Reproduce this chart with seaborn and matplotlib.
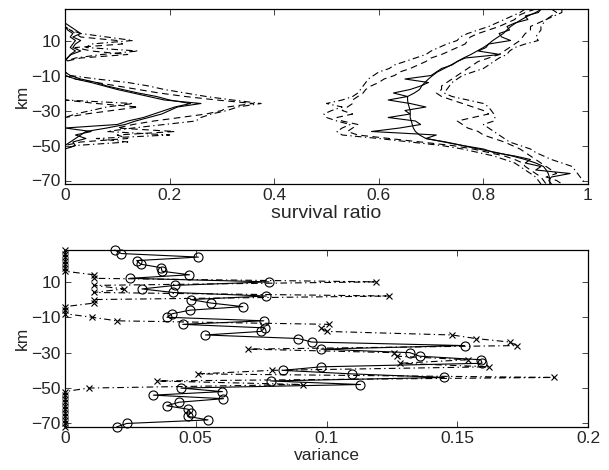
import numpy as np
import pandas as pd
import matplotlib
matplotlib.use("Agg")
import matplotlib.pyplot as plt
import seaborn as sns

# depth grid (km)
depth = [28, 26, 24, 22, 20, 18, 16, 14, 12, 10, 8, 6, 4, 2, 0,
         -2, -4, -6, -8, -10, -12, -14, -16, -18, -20, -22, -24, -26, -28, -30,
         -32, -34, -36, -38, -40, -42, -44, -46, -48, -50, -52, -54, -56, -58, -60,
         -62, -64, -66, -68, -70, -72]

# ---- top panel: survival ratio ----
# left group
left_smooth = [0, 0, 0, 0, 0, 0, 0.005, 0.015, 0.01, 0.02, 0.015, 0.01, 0.02, 0.01, 0.005,
               0, 0, 0, 0, 0, 0.02, 0.05, 0.075, 0.10, 0.13, 0.16, 0.19, 0.26, 0.215, 0.20,
               0.185, 0.16, 0.135, 0.115, 0.08, 0.04, 0.03, 0.02, 0.01, 0, 0, 0, 0, 0, 0,
               0, 0, 0, 0, 0, 0]
left_jagged = [0, 0, 0, 0, 0, 0.01, 0.02, 0.03, 0.015, 0.03, 0.02, 0.015, 0.03, 0.012, 0.004,
               0, 0, 0, 0, 0.01, 0.03, 0.06, 0.08, 0.11, 0.14, 0.175, 0.20, 0.24, 0.21, 0.19,
               0.17, 0.15, 0.12, 0.10, 0.0, 0.05, 0.02, 0.04, 0.015, 0.02, 0, 0, 0, 0, 0,
               0, 0, 0, 0, 0, 0]
left_dash = [0, 0, 0, 0, 0, 0, 0.01, 0.02, 0.03, 0.10, 0.11, 0.02, 0.05, 0.12, 0.03,
             0, 0, 0, 0, 0.0, 0.02, 0.06, 0.10, 0.14, 0.18, 0.23, 0.29, 0.36, 0.31, 0.30,
             0.27, 0.22, 0.17, 0.13, 0.10, 0.21, 0.10, 0.12, 0.03, 0, 0, 0, 0, 0, 0,
             0, 0, 0, 0, 0, 0]
left_dashdot = [0, 0, 0, 0, 0, 0, 0.01, 0.03, 0.08, 0.13, 0.05, 0.04, 0.14, 0.07, 0.02,
                0, 0, 0, 0, 0.01, 0.06, 0.12, 0.16, 0.19, 0.23, 0.27, 0.32, 0.375, 0.33, 0.31,
                0.28, 0.26, 0.25, 0.19, 0.13, 0.08, 0.20, 0.06, 0.12, 0.02, 0, 0, 0, 0, 0,
                0, 0, 0, 0, 0, 0]
left_dash_low = [0, 0, 0, 0, 0, 0, 0, 0, 0, 0, 0, 0, 0, 0, 0,
                 0, 0, 0, 0, 0, 0, 0, 0, 0, 0, 0, 0, 0.06, 0.14, 0.09,
                 0.04, 0, 0, 0, 0, 0, 0, 0, 0, 0, 0, 0, 0, 0, 0,
                 0, 0, 0, 0, 0, 0]
left_dashdot_low = [0, 0, 0, 0, 0, 0, 0, 0, 0, 0, 0, 0, 0, 0, 0,
                    0, 0, 0, 0, 0, 0, 0, 0, 0, 0, 0, 0, 0.13, 0.08, 0.05,
                    0.02, 0, 0, 0, 0, 0, 0, 0, 0, 0, 0, 0, 0, 0, 0,
                    0, 0, 0, 0, 0, 0]
# right group
right_smooth = [0.912, 0.90, 0.885, 0.873, 0.862, 0.852, 0.845, 0.838, 0.828, 0.818, 0.81, 0.80, 0.788, 0.776, 0.762,
                0.75, 0.738, 0.725, 0.712, 0.703, 0.695, 0.688, 0.682, 0.678, 0.668, 0.655, 0.655, 0.656, 0.658, 0.66,
                0.66, 0.66, 0.662, 0.664, 0.666, 0.67, 0.678, 0.69, 0.728, 0.76, 0.79, 0.825, 0.855, 0.88, 0.90,
                0.915, 0.92, 0.924, 0.926, 0.927, 0.927]
right_jagged = [0.91, 0.905, 0.88, 0.885, 0.86, 0.845, 0.85, 0.83, 0.835, 0.852, 0.81, 0.805, 0.79, 0.832, 0.765,
                0.75, 0.74, 0.72, 0.71, 0.70, 0.65, 0.695, 0.68, 0.66, 0.628, 0.655, 0.618, 0.66, 0.69, 0.65,
                0.66, 0.618, 0.67, 0.68, 0.64, 0.586, 0.71, 0.69, 0.725, 0.76, 0.80, 0.82, 0.86, 0.89, 0.88,
                0.91, 0.90, 0.966, 0.93, 0.925, 0.93]
right_lo_dashdot = [0.88, 0.87, 0.855, 0.84, 0.825, 0.81, 0.79, 0.77, 0.755, 0.75, 0.73, 0.715, 0.70, 0.69, 0.67,
                    0.65, 0.63, 0.62, 0.60, 0.59, 0.58, 0.575, 0.57, 0.565, 0.56, 0.55, 0.53, 0.50, 0.53, 0.51,
                    0.495, 0.50, 0.52, 0.545, 0.53, 0.52, 0.53, 0.60, 0.66, 0.72, 0.76, 0.79, 0.82, 0.84, 0.86,
                    0.87, 0.88, 0.89, 0.90, 0.905, 0.91]
right_lo_dash = [0.90, 0.88, 0.865, 0.86, 0.845, 0.83, 0.81, 0.79, 0.775, 0.77, 0.765, 0.75, 0.735, 0.72, 0.70,
                 0.69, 0.675, 0.66, 0.64, 0.63, 0.61, 0.60, 0.585, 0.575, 0.57, 0.56, 0.55, 0.55, 0.54, 0.53,
                 0.55, 0.52, 0.53, 0.56, 0.55, 0.54, 0.56, 0.62, 0.68, 0.74, 0.78, 0.81, 0.84, 0.86, 0.875,
                 0.88, 0.89, 0.90, 0.91, 0.915, 0.92]
right_hi_dash = [0.93, 0.94, 0.93, 0.92, 0.905, 0.89, 0.89, 0.88, 0.875, 0.87, 0.86, 0.85, 0.84, 0.83, 0.81,
                 0.79, 0.78, 0.77, 0.76, 0.75, 0.74, 0.73, 0.72, 0.72, 0.71, 0.72, 0.74, 0.76, 0.78, 0.80,
                 0.81, 0.78, 0.75, 0.76, 0.77, 0.79, 0.80, 0.82, 0.84, 0.855, 0.87, 0.88, 0.89, 0.90, 0.91,
                 0.92, 0.93, 0.94, 0.92, 0.94, 0.95]
right_hi_dashdot = [0.95, 0.95, 0.935, 0.92, 0.915, 0.91, 0.91, 0.905, 0.90, 0.905, 0.88, 0.86, 0.85, 0.845, 0.83,
                    0.82, 0.81, 0.80, 0.78, 0.76, 0.75, 0.74, 0.735, 0.73, 0.725, 0.74, 0.77, 0.80, 0.81, 0.815,
                    0.82, 0.822, 0.82, 0.80, 0.81, 0.82, 0.83, 0.84, 0.85, 0.87, 0.89, 0.90, 0.915, 0.93, 0.95,
                    0.97, 0.975, 0.98, 0.985, 0.99, 0.997]

# ---- bottom panel: variance ----
var_circles = [0.019, 0.0215, 0.051, 0.0274, 0.0289, 0.0368, 0.0371, 0.0476, 0.0248, 0.078, 0.042, 0.0294, 0.0414, 0.077, 0.048,
               0.056, 0.068, 0.0478, 0.041, 0.039, 0.076, 0.045, 0.0764, 0.0749, 0.0537, 0.0892, 0.0943, 0.1528, 0.0979, 0.1319,
               0.1356, 0.159, 0.1595, 0.0979, 0.0832, 0.1097, 0.145, 0.0787, 0.113, 0.0443, 0.0602, 0.0338, 0.0606, 0.0436, 0.0389,
               0.0472, 0.048, 0.047, 0.0547, 0.0236, 0.0197]
var_crosses = [0, 0, 0, 0, 0, 0, 0, 0.011, 0.011, 0.119, 0.011, 0.0225, 0.011, 0.124, 0.011,
               0.011, 0, 0, 0, 0.0104, 0.0197, 0.101, 0.098, 0.100, 0.148, 0.157, 0.170, 0.173, 0.070, 0.126,
               0.127, 0.154, 0.128, 0.162, 0.079, 0.051, 0.187, 0.035, 0.091, 0.009, 0, 0, 0, 0, 0,
               0, 0, 0, 0, 0, 0]

sns.set_style("ticks")
plt.rcParams['font.family'] = ['Liberation Sans', 'DejaVu Sans']

fig = plt.figure(figsize=(6.09, 4.70), dpi=100)
ax1 = fig.add_axes([65/609, 1-184/470, 523/609, 175/470])
ax2 = fig.add_axes([65/609, 1-427/470, 523/609, 177/470])

DASH = (0, (6, 4))
DASHDOT = (0, (6, 3, 1.2, 3))

def draw(ax, vals, ls, lw=0.8, clip=True, **kw):
    df = pd.DataFrame({"v": vals, "km": depth})
    sns.lineplot(data=df, x="v", y="km", sort=False, estimator=None, ax=ax,
                 color="black", linewidth=lw, linestyle=ls, clip_on=clip, **kw)

for vals, ls in [(left_smooth, "-"), (left_jagged, "-"), (left_dash, DASH), (left_dashdot, DASHDOT),
                 (left_dash_low, DASH), (left_dashdot_low, DASHDOT),
                 (right_smooth, "-"), (right_jagged, "-"), (right_lo_dash, DASH), (right_lo_dashdot, DASHDOT),
                 (right_hi_dash, DASH), (right_hi_dashdot, DASHDOT)]:
    draw(ax1, vals, ls)

draw(ax2, var_crosses, DASHDOT, clip=False, marker="x", markersize=4.5, markeredgewidth=0.8,
     markeredgecolor="black")
draw(ax2, var_circles, "-", clip=False, marker="o", markersize=6.5, markerfacecolor="none",
     markeredgecolor="black", markeredgewidth=0.8)

for ax in (ax1, ax2):
    ax.set_ylim(-72, 28)
    ax.set_yticks([10, -10, -30, -50, -70])
    ax.set_yticklabels(["10", "\u221210", "\u221230", "\u221250", "\u221270"])
    ax.set_ylabel("km", fontsize=12.5, labelpad=1)
    ax.tick_params(direction="in", top=True, right=True, length=4, width=0.6,
                   labelsize=12.5, pad=3)
    for s in ax.spines.values():
        s.set_linewidth(0.9)
        s.set_color("black")
    ax.set_facecolor("white")

ax1.set_xlim(0, 1)
ax1.set_xticks([0, 0.2, 0.4, 0.6, 0.8, 1])
ax1.set_xticklabels(["0", "0.2", "0.4", "0.6", "0.8", "1"])
ax1.set_xlabel("survival ratio", fontsize=14, labelpad=1)

ax2.set_xlim(0, 0.2)
ax2.set_xticks([0, 0.05, 0.1, 0.15, 0.2])
ax2.set_xticklabels(["0", "0.05", "0.1", "0.15", "0.2"])
ax2.set_xlabel("variance", fontsize=12.5, labelpad=1)

fig.savefig("out.png", dpi=100, facecolor="white")
